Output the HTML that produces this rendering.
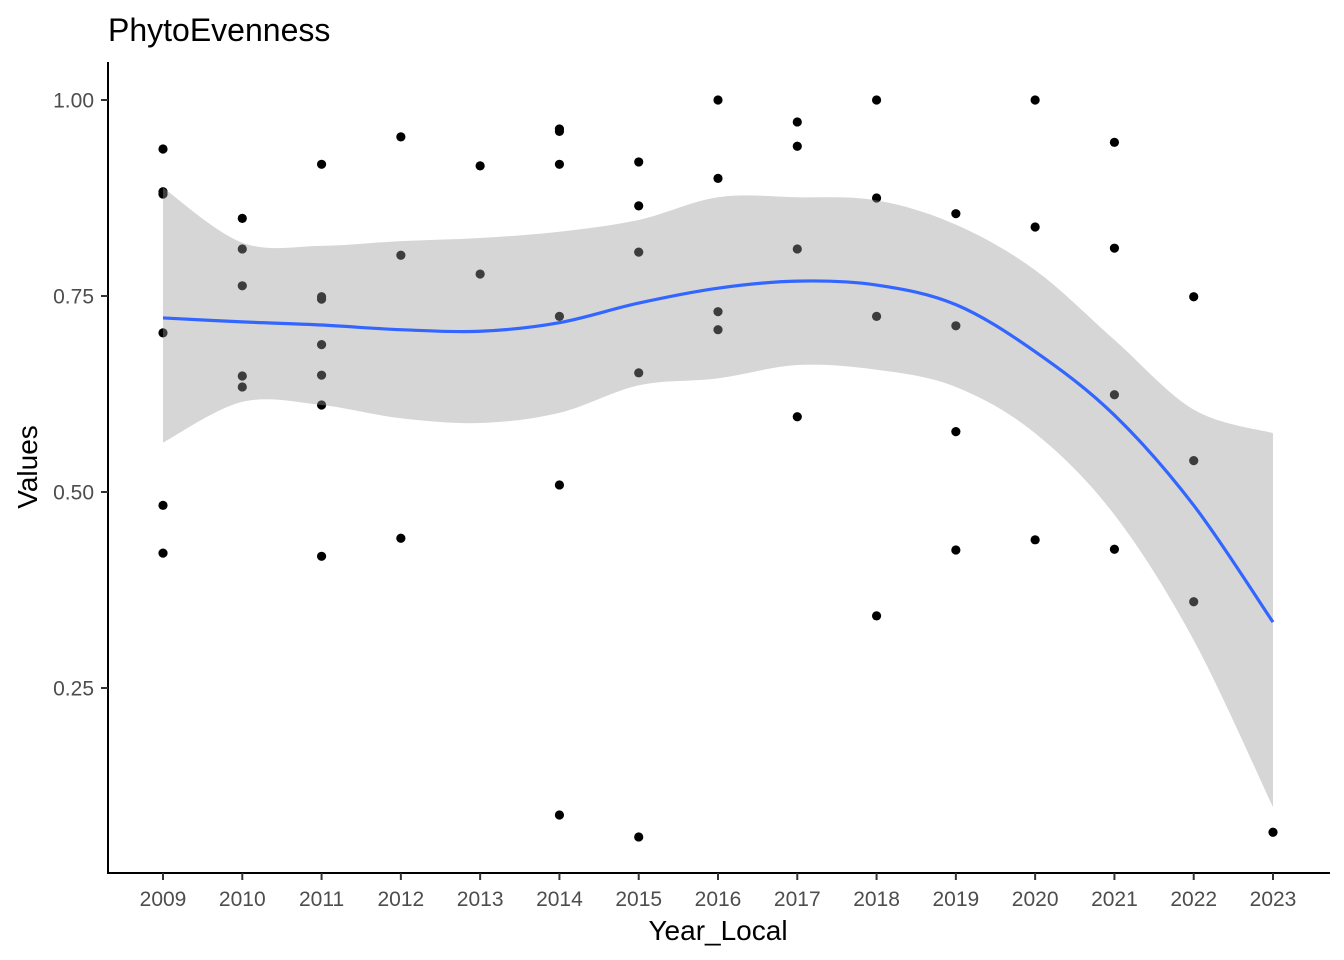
<!DOCTYPE html>
<html><head><meta charset="utf-8"><style>
html,body{margin:0;padding:0;background:#fff;}
svg{display:block;font-family:"Liberation Sans",Arial,sans-serif;}
</style></head><body>
<svg id="chart" width="1344" height="960" viewBox="0 0 1344 960">
<text x="108" y="41" font-size="32" fill="#000">PhytoEvenness</text>
<g id="points"></g>
<path id="band" fill="#999999" fill-opacity="0.4"></path>
<path id="smooth" fill="none" stroke="#3366FF" stroke-width="3.2"></path>
<line x1="108" y1="62" x2="108" y2="873" stroke="#000" stroke-width="2"/>
<line x1="107" y1="873" x2="1330" y2="873" stroke="#000" stroke-width="2"/>
<g id="yticks"></g>
<g id="xticks"></g>
<text x="718" y="940" font-size="28" text-anchor="middle" fill="#000">Year_Local</text>
<text transform="translate(37,467) rotate(-90)" font-size="28" text-anchor="middle" fill="#000">Values</text>
</svg>
<script>
const years=[2009,2010,2011,2012,2013,2014,2015,2016,2017,2018,2019,2020,2021,2022,2023];
const yTicks=[0.25,0.50,0.75,1.00];
const yTickLabels=["0.25","0.50","0.75","1.00"];
const pointYears=[2009,2009,2009,2009,2009,2009,2010,2010,2010,2010,2010,2011,2011,2011,2011,2011,2011,2011,2012,2012,2012,2013,2013,2014,2014,2014,2014,2014,2014,2015,2015,2015,2015,2015,2016,2016,2016,2016,2017,2017,2017,2017,2018,2018,2018,2018,2019,2019,2019,2019,2020,2020,2020,2021,2021,2021,2021,2022,2022,2022,2023];
const pointValues=[0.9375,0.883,0.880,0.703,0.483,0.422,0.849,0.810,0.763,0.648,0.634,0.918,0.749,0.746,0.688,0.649,0.611,0.418,0.953,0.802,0.441,0.916,0.778,0.963,0.960,0.918,0.724,0.509,0.088,0.921,0.865,0.806,0.652,0.060,1.0,0.900,0.730,0.707,0.972,0.941,0.810,0.596,1.0,0.875,0.724,0.342,0.855,0.712,0.577,0.426,1.0,0.838,0.439,0.946,0.811,0.624,0.427,0.749,0.540,0.360,0.066];
const smoothValues=[0.722,0.717,0.713,0.707,0.705,0.716,0.741,0.760,0.769,0.764,0.739,0.679,0.598,0.483,0.334];
const bandUpper=[0.888,0.818,0.814,0.820,0.824,0.832,0.847,0.876,0.876,0.872,0.841,0.783,0.694,0.605,0.575];
const bandLower=[0.563,0.615,0.611,0.594,0.588,0.601,0.636,0.645,0.662,0.656,0.634,0.575,0.471,0.311,0.098];

const NS="http://www.w3.org/2000/svg";
function xs(y){return 163+(y-2009)*(1273-163)/14;}
function ys(v){return 100+(1-v)*784;}
function curve(pts){
  let d="";
  for(let i=0;i<pts.length;i++){
    const p=pts[i];
    if(i===0){d+="M"+p[0]+","+p[1];continue;}
    const p0=pts[Math.max(0,i-2)],p1=pts[i-1],p2=p,p3=pts[Math.min(pts.length-1,i+1)];
    const c1x=p1[0]+(p2[0]-p0[0])/6,c1y=p1[1]+(p2[1]-p0[1])/6;
    const c2x=p2[0]-(p3[0]-p1[0])/6,c2y=p2[1]-(p3[1]-p1[1])/6;
    d+=" C"+c1x+","+c1y+" "+c2x+","+c2y+" "+p2[0]+","+p2[1];
  }
  return d;
}
const gp=document.getElementById('points');
pointValues.forEach((v,i)=>{
  const c=document.createElementNS(NS,'circle');
  c.setAttribute('cx',xs(pointYears[i]));c.setAttribute('cy',ys(v));c.setAttribute('r',4.6);c.setAttribute('fill','#000');
  
  
  gp.appendChild(c);
});
const up=years.map((y,i)=>[xs(y),ys(bandUpper[i])]);
const lo=years.map((y,i)=>[xs(y),ys(bandLower[i])]).reverse();
let bd=curve(up);
bd+=" L"+lo[0][0]+","+lo[0][1]+curve(lo).replace(/^M[^ ]+/,"")+" Z";
document.getElementById('band').setAttribute('d',bd);
document.getElementById('smooth').setAttribute('d',curve(years.map((y,i)=>[xs(y),ys(smoothValues[i])])));
const gy=document.getElementById('yticks');
yTicks.forEach((v,i)=>{
  const l=document.createElementNS(NS,'line');
  l.setAttribute('x1',101);l.setAttribute('x2',108);l.setAttribute('y1',ys(v));l.setAttribute('y2',ys(v));l.setAttribute('stroke','#333');l.setAttribute('stroke-width',2);
  
  
  gy.appendChild(l);
  const t=document.createElementNS(NS,'text');
  t.setAttribute('x',94);t.setAttribute('y',ys(v)+7.5);t.setAttribute('text-anchor','end');t.setAttribute('font-size','21');t.setAttribute('fill','#4d4d4d');
  t.textContent=yTickLabels[i];
  
  
  gy.appendChild(t);
});
const gx=document.getElementById('xticks');
years.forEach(y=>{
  const l=document.createElementNS(NS,'line');
  l.setAttribute('x1',xs(y));l.setAttribute('x2',xs(y));l.setAttribute('y1',873);l.setAttribute('y2',880);l.setAttribute('stroke','#333');l.setAttribute('stroke-width',2);
  
  
  gx.appendChild(l);
  const t=document.createElementNS(NS,'text');
  t.setAttribute('x',xs(y));t.setAttribute('y',906);t.setAttribute('text-anchor','middle');t.setAttribute('font-size','21');t.setAttribute('fill','#4d4d4d');
  t.textContent=y;
  
  
  gx.appendChild(t);
});
</script>
</body></html>
